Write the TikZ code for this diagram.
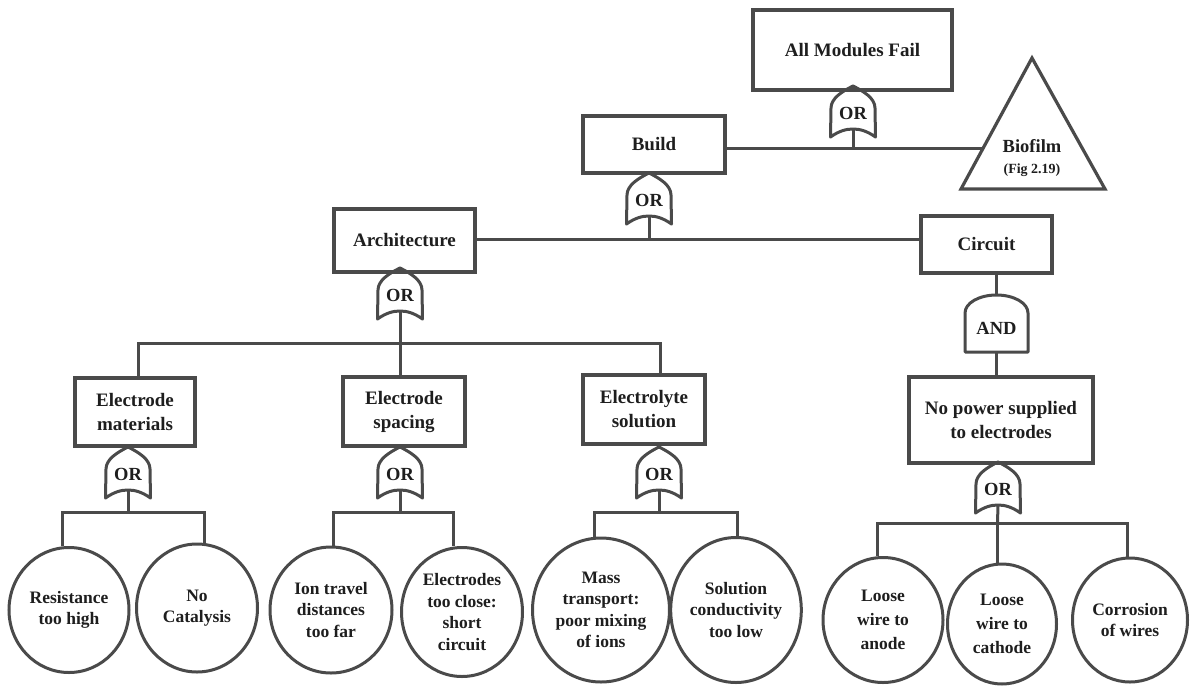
\documentclass[tikz,border=0pt]{standalone}
\usepackage{fontspec}
\setmainfont{Liberation Serif}[BoldFont={Liberation Serif Bold}]
\usetikzlibrary{shapes.geometric}
\definecolor{lc}{HTML}{4A4A4A}
\definecolor{tc}{HTML}{1E1E1E}
\newcommand\FTor[3]{%
  \begin{scope}[shift={(#2,#3)}]
    \path[gline] (0,0) .. controls (10,5) and (22,12) .. (22,22) -- (22.5,51)
      .. controls (14,45) and (7,43) .. (0,43) .. controls (-7,43) and (-14,45) .. (-22.5,51)
      -- (-22,22) .. controls (-22,12) and (-10,5) .. (0,0) -- cycle;
    \node[gtext] (#1) at (0,27) {OR};
    \coordinate (#1-in) at (0,43);
  \end{scope}}
\begin{document}
\begin{tikzpicture}[x=1pt,y=-1pt,
  box/.style={draw=lc, line width=3.2pt, rectangle, inner sep=0pt, align=center, text=tc,
    font=\fontsize{19}{24}\selectfont\bfseries},
  ev/.style={draw=lc, line width=3pt, ellipse, inner sep=0pt, align=center, text=tc,
    font=\fontsize{17.5}{21.5}\selectfont\bfseries},
  conn/.style={draw=lc, line width=3pt},
  gline/.style={draw=lc, line width=3pt, line join=round},
  gtext/.style={inner sep=0pt, text=tc, font=\fontsize{18.5}{20}\selectfont\bfseries}]
\useasboundingbox (0,0) rectangle (1195,686);

% boxes
\node[box, minimum width=199, minimum height=80] (top) at (852.5,50) {All Modules Fail};
\node[box, minimum width=142, minimum height=57] (build) at (654,144.5) {Build};
\node[box, minimum width=141, minimum height=63] (arch) at (404.5,240.5) {Architecture};
\node[box, minimum width=131, minimum height=57] (circuit) at (986.5,244.5) {Circuit};
\node[box, minimum width=120, minimum height=68] (mat) at (135,412) {Electrode\\materials};
\node[box, minimum width=122, minimum height=69] (spc) at (404,411.5) {Electrode\\spacing};
\node[box, minimum width=122, minimum height=69] (ely) at (644,409.5) {Electrolyte\\solution};
\node[box, minimum width=184, minimum height=86] (nopw) at (1001,420) {No power supplied\\to electrodes};

% transfer triangle
\draw[gline, line width=3.2pt, line join=miter] (1032,58) -- (1105,189) -- (961,189) -- cycle;
\node[gtext, anchor=base] (bio) at (1032,152) {Biofilm};
\node[inner sep=0pt, text=tc, font=\fontsize{14}{16}\selectfont\bfseries, anchor=base] (bioref) at (1032,173) {(Fig 2.19)};
\coordinate (bioL) at (983,148);

% basic events
\node[ev, minimum width=120, minimum height=125] (res) at (69,610) {Resistance\\too high};
\node[ev, minimum width=121, minimum height=128] (cat) at (197,608) {No\\Catalysis};
\node[ev, minimum width=122, minimum height=126] (ion) at (331,610) {Ion travel\\distances\\too far};
\node[ev, minimum width=121, minimum height=129] (ect) at (462,612) {Electrodes\\too close:\\short\\circuit};
\node[ev, minimum width=137, minimum height=144] (mass) at (601,610) {Mass\\transport:\\poor mixing\\of ions};
\node[ev, minimum width=128, minimum height=145] (sol) at (736,610) {Solution\\conductivity\\too low};
\node[ev, minimum width=120, minimum height=125, font=\fontsize{17.5}{24}\selectfont\bfseries] (anode) at (883,620) {Loose\\wire to\\anode};
\node[ev, minimum width=109, minimum height=120, font=\fontsize{17.5}{24}\selectfont\bfseries] (cath) at (1002,624) {Loose\\wire to\\cathode};
\node[ev, minimum width=115, minimum height=124] (corr) at (1130,620) {Corrosion\\of wires};

% gates
\FTor{g0}{853}{86}
\FTor{g1}{649}{173}
\FTor{g2}{400}{268}
\FTor{g3}{128}{447}
\FTor{g4}{400}{447}
\FTor{g5}{659}{447}
\FTor{g6}{998}{462}
\begin{scope}[shift={(996.5,295)}]
  \path[gline] (-31.5,57) -- (-31.5,18) .. controls (-31.5,8) and (-17.4,0) .. (0,0)
    .. controls (17.4,0) and (31.5,8) .. (31.5,18) -- (31.5,57) -- cycle;
  \node[gtext] (and) at (0,33) {AND};
  \coordinate (and-top) at (0,0);
  \coordinate (and-bot) at (0,57);
\end{scope}

% junction points
\coordinate (b1) at (649,239);
\coordinate (b2) at (400,343);
\coordinate (b3) at (128,512);
\coordinate (b4) at (400,512);
\coordinate (b5) at (659,512);
\coordinate (b6) at (997.5,523);

% connectors
\draw[conn] (g0-in) -- (g0-in |- bioL);
\draw[conn] (build.east |- bioL) -- (bioL);
\draw[conn] (g1-in) -- (b1);
\draw[conn] (arch.east |- b1) -- (circuit.west |- b1);
\draw[conn] (g2-in) -- (b2);
\draw[conn] ([xshift=3pt]mat.north) |- (b2) -| ([xshift=16pt]ely.north);
\draw[conn] (b2) -- (b2 |- spc.north);
\draw[conn] (g3-in) -- (b3);
\draw[conn] ([xshift=-7pt]res.north) |- (b3) -| ([xshift=7pt]cat.north);
\draw[conn] (g4-in) -- (b4);
\draw[conn] ([xshift=2pt]ion.north) |- (b4) -| ([xshift=-9pt]ect.north);
\draw[conn] (g5-in) -- (b5);
\draw[conn] ([xshift=-7pt]mass.north) |- (b5) -| ([xshift=1pt]sol.north);
\draw[conn] (and-top) -- (and-top |- circuit.south);
\draw[conn] (and-bot) -- (and-bot |- nopw.north);
\draw[conn] (g6-in) -- (b6);
\draw[conn] ([xshift=-6pt]anode.north) |- (b6) -| ([xshift=-3pt]corr.north);
\draw[conn] (b6) -- (b6 |- cath.north);
\end{tikzpicture}
\end{document}
